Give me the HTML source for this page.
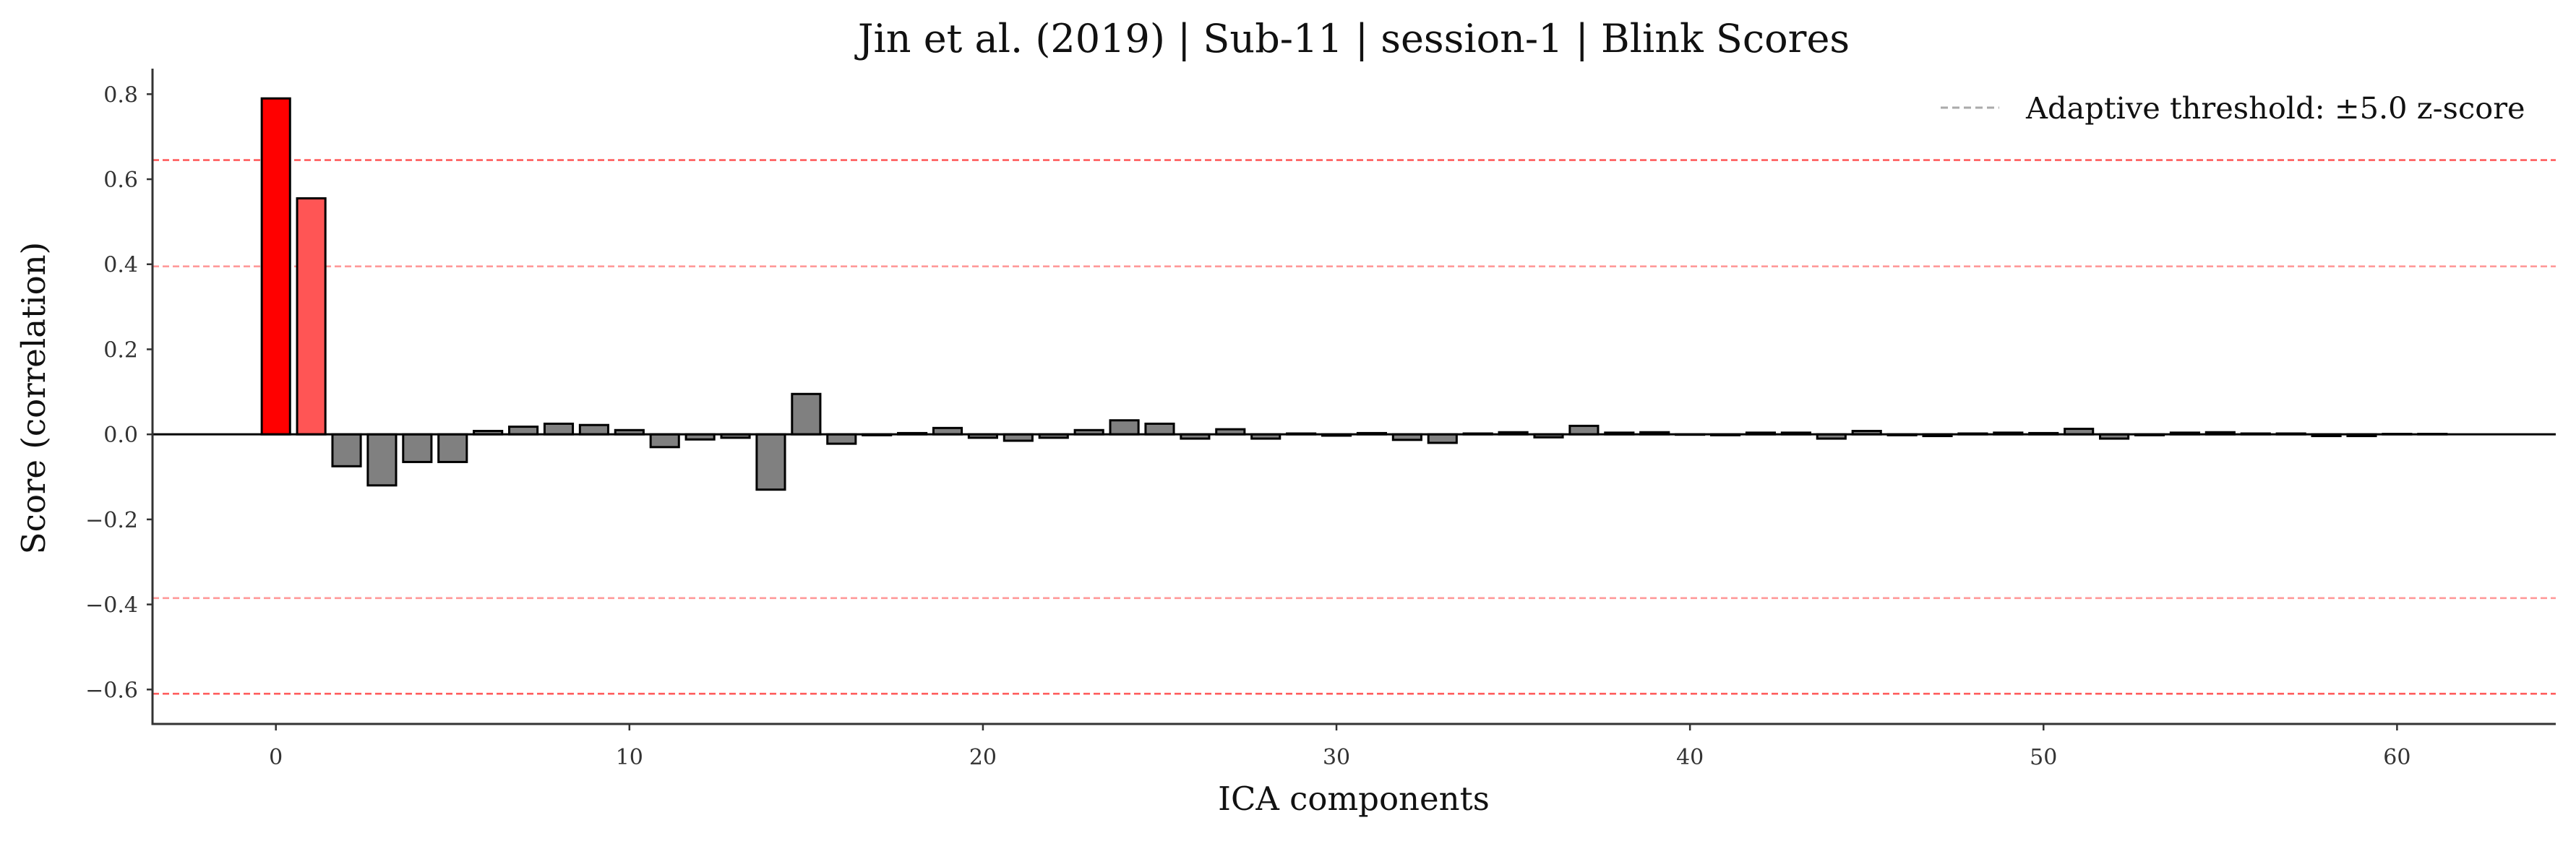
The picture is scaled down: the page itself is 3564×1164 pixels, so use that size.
<!DOCTYPE html>
<html><head><meta charset="utf-8"><style>
body{margin:0;background:#fff}
text{font-family:"DejaVu Serif","Liberation Serif",serif}
</style></head><body>
<svg id="chart" width="3564" height="1159" xmlns="http://www.w3.org/2000/svg">
<rect width="3564" height="1159" fill="#fff"/>
<text x="1873" y="72" font-size="54" text-anchor="middle" fill="#111">Jin et al. (2019) | Sub-11 | session-1 | Blink Scores</text>
<g id="thr"></g>
<g id="bars"></g>
<g id="axes"></g>
<text transform="translate(62,551) rotate(-90)" font-size="45" text-anchor="middle" fill="#111">Score (correlation)</text>
<text x="1873" y="1121" font-size="45" text-anchor="middle" fill="#111">ICA components</text>
<g>
<line x1="2685" y1="149" x2="2766" y2="149" stroke="#aaa" stroke-width="3" stroke-dasharray="10,6"/>
<text x="2803" y="164" font-size="41.5" fill="#111">Adaptive threshold: ±5.0 z-score</text>
</g>
</svg>
<script>
const components = Array.from({length:62},(_, i)=>i);
const scores = [0.79,0.555,-0.075,-0.12,-0.065,-0.065,0.008,0.018,0.025,0.022,0.01,-0.03,-0.012,-0.008,-0.13,0.095,-0.022,-0.002,0.003,0.015,-0.008,-0.015,-0.008,0.01,0.033,0.025,-0.01,0.012,-0.01,0.002,-0.003,0.003,-0.013,-0.02,0.002,0.005,-0.007,0.02,0.004,0.005,0.0,-0.002,0.004,0.004,-0.01,0.008,-0.002,-0.004,0.002,0.004,0.003,0.013,-0.01,-0.002,0.004,0.005,0.002,0.002,-0.004,-0.004,0.001,0.001];
const thresholds = [0.645,0.395,-0.385,-0.61];
const thresholdStrong = [true,false,false,true];
const yTicks = [0.8,0.6,0.4,0.2,0.0,-0.2,-0.4,-0.6];
const yTickLabels = ["0.8","0.6","0.4","0.2","0.0","\u22120.2","\u22120.4","\u22120.6"];
const xTicks = [0,10,20,30,40,50,60];
const xTickLabels = ["0","10","20","30","40","50","60"];

const NS="http://www.w3.org/2000/svg";
const L=211,R=3536,T=95,B=1002;
const xMin=-3.49,xMax=64.49,yMin=-0.681,yMax=0.86;
const X=v=>L+(v-xMin)/(xMax-xMin)*(R-L);
const Y=v=>B-(v-yMin)/(yMax-yMin)*(B-T);
function mk(tag,attrs,parent){const e=document.createElementNS(NS,tag);for(const k in attrs)e.setAttribute(k,attrs[k]);parent.appendChild(e);return e;}
const thr=document.getElementById('thr'),bars=document.getElementById('bars'),axes=document.getElementById('axes');
thresholds.forEach((t,i)=>{
  const l=mk('line',{x1:L,x2:R,y1:Y(t),y2:Y(t),stroke:thresholdStrong[i]?'#ff5c5c':'#ff9a9a','stroke-width':2.6,'stroke-dasharray':'9,5'},thr);
  
  
});
components.forEach((c,i)=>{
  const v=scores[i];
  const y0=Y(0),y1=Y(v);
  const fill=i===0?'#ff0000':(i===1?'#ff5555':'#808080');
  const r=mk('rect',{x:X(c-0.4),width:X(c+0.4)-X(c-0.4),y:Math.min(y0,y1),height:Math.max(Math.abs(y1-y0),0.5),fill:fill,stroke:'#000','stroke-width':3},bars);
  
  
});
const z=mk('line',{x1:L,x2:R,y1:Y(0),y2:Y(0),stroke:'#000','stroke-width':3},axes);


const ya=mk('line',{x1:L,x2:L,y1:T,y2:B+1.5,stroke:'#333','stroke-width':3},axes);


const xa=mk('line',{x1:L-1.5,x2:R,y1:B,y2:B,stroke:'#333','stroke-width':3},axes);


yTicks.forEach((t,i)=>{
  mk('line',{x1:L-8,x2:L,y1:Y(t),y2:Y(t),stroke:'#333','stroke-width':2.5},axes);
  const tx=mk('text',{x:L-20,y:Y(t)+11,'font-size':30,'text-anchor':'end',fill:'#333'},axes);
  tx.textContent=yTickLabels[i];
  
  
});
xTicks.forEach((t,i)=>{
  mk('line',{x1:X(t),x2:X(t),y1:B,y2:B+9,stroke:'#333','stroke-width':2.5},axes);
  const tx=mk('text',{x:X(t),y:B+56,'font-size':30,'text-anchor':'middle',fill:'#333'},axes);
  tx.textContent=xTickLabels[i];
  
  
});
</script>
</body></html>
